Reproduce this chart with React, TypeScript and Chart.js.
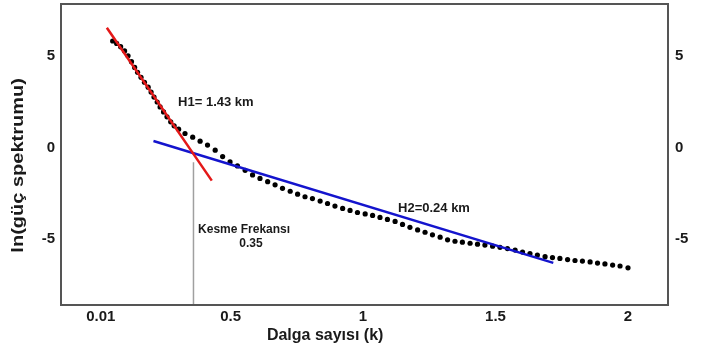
import React, { useEffect, useRef } from 'react';
import { Chart, registerables } from 'chart.js';

Chart.register(...registerables);

// Measured spectrum (wavenumber k, ln power)
const dotX = [
  0.055, 0.070, 0.085, 0.100, 0.113, 0.126, 0.138, 0.149, 0.162, 0.175,
  0.189, 0.200, 0.211, 0.223, 0.234, 0.247, 0.260, 0.274, 0.287, 0.304,
  0.328, 0.357, 0.385, 0.413, 0.442, 0.470, 0.498, 0.526, 0.555, 0.583,
  0.611, 0.640, 0.668, 0.696, 0.725, 0.753, 0.781, 0.809, 0.838, 0.866,
  0.894, 0.923, 0.951, 0.979, 1.008, 1.036, 1.064, 1.092, 1.121, 1.149,
  1.177, 1.206, 1.234, 1.262, 1.291, 1.319, 1.347, 1.375, 1.404, 1.432,
  1.460, 1.489, 1.517, 1.545, 1.574, 1.602, 1.630, 1.658, 1.687, 1.715,
  1.743, 1.772, 1.800, 1.828, 1.857, 1.885, 1.913, 1.942, 1.970, 2.000,
];
const dotY = [
  5.82, 5.69, 5.51, 5.28, 5.01, 4.69, 4.38, 4.11, 3.84, 3.57,
  3.30, 3.03, 2.76, 2.49, 2.22, 1.95, 1.68, 1.41, 1.19, 1.01,
  0.77, 0.57, 0.35, 0.14, -0.14, -0.49, -0.78, -1.00, -1.24, -1.49,
  -1.68, -1.86, -2.03, -2.22, -2.38, -2.54, -2.68, -2.78, -2.92, -3.05,
  -3.19, -3.32, -3.43, -3.54, -3.62, -3.70, -3.81, -3.92, -4.03, -4.19,
  -4.35, -4.49, -4.62, -4.76, -4.89, -5.03, -5.11, -5.16, -5.22, -5.27,
  -5.32, -5.38, -5.44, -5.51, -5.59, -5.70, -5.78, -5.86, -5.95, -6.00,
  -6.05, -6.11, -6.16, -6.19, -6.24, -6.30, -6.35, -6.41, -6.46, -6.56,
];

// Fitted lines
const deepLineX = [0.033, 0.429];
const deepLineY = [6.54, -1.8];
const shallowLineX = [0.209, 1.718];
const shallowLineY = [0.36, -6.29];
const cutoffX = [0.36, 0.36];
const cutoffY = [-0.8, -8.59];

// Axes
const xRange = [-0.14, 2.151];
const yRange = [-8.59, 7.84];
const xTickValues = [0.01, 0.5, 1, 1.5, 2];
const xTickLabels = ['0.01', '0.5', '1', '1.5', '2'];
const yTickValues = [-5, 0, 5];
const yTickLabels = ['-5', '0', '5'];
const xTitle = 'Dalga sayısı (k)';
const yTitle = 'ln(güç spektrumu)';

// Annotations
const noteTexts = ['H1= 1.43 km', 'H2=0.24 km', 'Kesme Frekansı', '0.35'];
const noteX = [0.302, 1.132, 0.551, 0.577];
const noteY = [2.49, -3.3, -4.49, -5.24];
const noteAlign = ['left', 'left', 'center', 'center'];
const noteSize = [13, 13, 12, 12];

const FONT = '"Liberation Sans", Arial, sans-serif';
const TEXT = '#1a1a1a';

const pts = (xs: number[], ys: number[]) => xs.map((x, i) => ({ x, y: ys[i] }));

const decorPlugin = {
  id: 'decor',
  afterDraw(chart: any) {
    const { ctx, chartArea: a, scales } = chart;
    ctx.save();
    ctx.strokeStyle = '#555';
    ctx.lineWidth = 2;
    ctx.strokeRect(a.left, a.top, a.right - a.left, a.bottom - a.top);

    ctx.fillStyle = TEXT;
    ctx.textBaseline = 'middle';
    noteTexts.forEach((t, i) => {
      ctx.font = `bold ${noteSize[i]}px ${FONT}`;
      ctx.textAlign = noteAlign[i] as CanvasTextAlign;
      ctx.fillText(t, scales.x.getPixelForValue(noteX[i]), scales.y.getPixelForValue(noteY[i]));
    });

    // x axis title
    ctx.font = `bold 16px ${FONT}`;
    ctx.textAlign = 'center';
    ctx.fillText(xTitle, scales.x.getPixelForValue(0.857), a.bottom + 31);

    // y axis title
    ctx.save();
    ctx.translate(19, scales.y.getPixelForValue(-0.97));
    ctx.rotate(-Math.PI / 2);
    ctx.scale(1, 0.8);
    ctx.font = `bold 20px ${FONT}`;
    ctx.textAlign = 'center';
    ctx.fillText(yTitle, 0, 0);
    ctx.restore();

    ctx.restore();
  },
};

export default function App() {
  const ref = useRef<HTMLCanvasElement | null>(null);

  useEffect(() => {
    if (!ref.current) return;
    const tickFont = { family: FONT, size: 15, weight: 'bold' as const };
    const yAxis = (position: 'left' | 'right', width: number, padding: number) => ({
      type: 'linear' as const,
      position,
      min: yRange[0],
      max: yRange[1],
      grid: { display: false, drawTicks: false },
      border: { display: false },
      afterBuildTicks: (s: any) => {
        s.ticks = yTickValues.map((v) => ({ value: v }));
      },
      afterFit: (s: any) => {
        s.width = width;
        s.paddingTop = 0;
        s.paddingBottom = 0;
      },
      ticks: {
        autoSkip: false,
        padding,
        color: TEXT,
        font: tickFont,
        callback: (_v: any, i: number) => yTickLabels[i],
      },
    });

    const chart = new Chart(ref.current, {
      type: 'scatter',
      data: {
        datasets: [
          {
            label: 'H1',
            data: pts(deepLineX, deepLineY),
            showLine: true,
            borderColor: 'rgb(228,24,24)',
            borderWidth: 2.5,
            pointRadius: 0,
            order: 0,
          },
          {
            label: 'H2',
            data: pts(shallowLineX, shallowLineY),
            showLine: true,
            borderColor: 'rgb(20,20,205)',
            borderWidth: 2.5,
            pointRadius: 0,
            order: 0,
          },
          {
            label: 'spektrum',
            data: pts(dotX, dotY),
            pointRadius: 2.6,
            pointBackgroundColor: '#000',
            pointBorderWidth: 0,
            borderColor: '#000',
            order: 1,
          },
          {
            label: 'kesme',
            data: pts(cutoffX, cutoffY),
            showLine: true,
            borderColor: '#a0a0a0',
            borderWidth: 1.5,
            pointRadius: 0,
            order: 2,
          },
        ],
      },
      options: {
        animation: false,
        responsive: false,
        devicePixelRatio: 1,
        layout: { padding: { top: 1, left: 0, right: 0, bottom: 0 } },
        plugins: { legend: { display: false }, tooltip: { enabled: false } },
        scales: {
          x: {
            type: 'linear',
            min: xRange[0],
            max: xRange[1],
            grid: { display: false, drawTicks: false },
            border: { display: false },
            afterBuildTicks: (s: any) => {
              s.ticks = xTickValues.map((v) => ({ value: v }));
            },
            afterFit: (s: any) => {
              s.height = 47;
              s.paddingLeft = 0;
              s.paddingRight = 0;
            },
            ticks: {
              autoSkip: false,
              maxRotation: 0,
              padding: 3,
              color: TEXT,
              font: tickFont,
              callback: (_v: any, i: number) => xTickLabels[i],
            },
          },
          y: yAxis('left', 61, 6),
          y2: yAxis('right', 41, 7),
        },
      },
      plugins: [decorPlugin],
    });
    return () => chart.destroy();
  }, []);

  return (
    <canvas
      ref={ref}
      width={709}
      height={352}
      style={{ position: 'absolute', left: 0, top: 0, display: 'block', background: '#fff' }}
    />
  );
}
